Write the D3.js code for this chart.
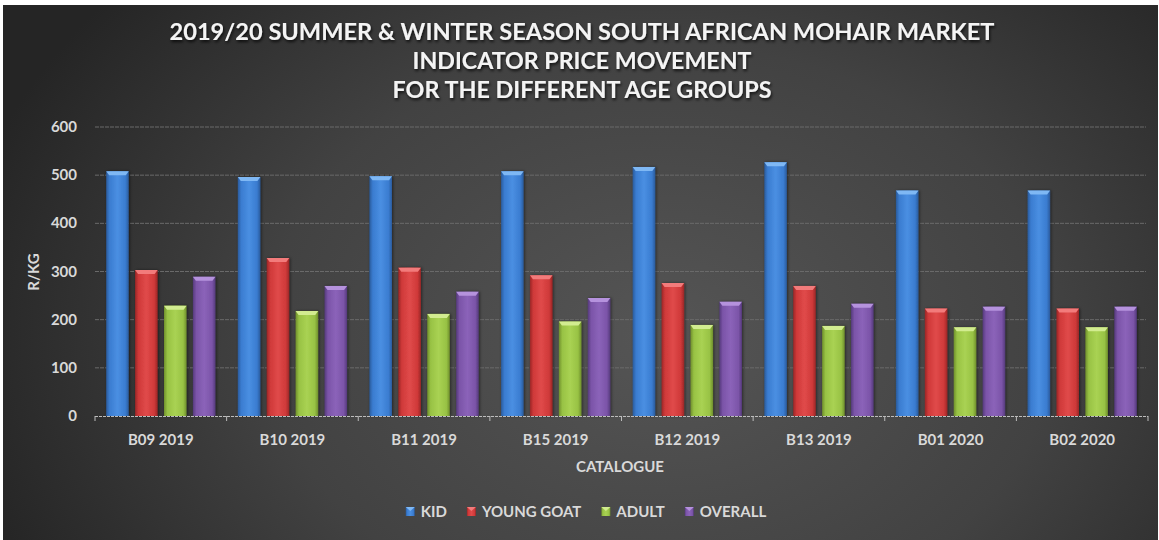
<!DOCTYPE html>
<html>
<head>
<meta charset="utf-8">
<script src="https://cdn.jsdelivr.net/npm/d3@7"></script>
<style>
  body { margin: 0; background: #ffffff; }
  svg { display: block; }
  text { font-family: Lato, "Open Sans", sans-serif; font-weight: 700; }
</style>
</head>
<body>
<script>
const categories = ["B09 2019", "B10 2019", "B11 2019", "B15 2019", "B12 2019", "B13 2019", "B01 2020", "B02 2020"];
const seriesNames = ["KID", "YOUNG GOAT", "ADULT", "OVERALL"];
const kid = [508, 496, 498, 508, 517, 527, 468, 468];
const youngGoat = [303, 328, 308, 292, 276, 270, 223, 223];
const adult = [229, 218, 212, 196, 189, 187, 184, 184];
const overall = [289, 270, 258, 245, 237, 233, 227, 227];
const yTicks = [0, 100, 200, 300, 400, 500, 600];
const titleLines = [
  "2019/20 SUMMER & WINTER SEASON SOUTH AFRICAN MOHAIR MARKET",
  "INDICATOR PRICE MOVEMENT",
  "FOR THE DIFFERENT AGE GROUPS"
];
const titleWidths = [825, 339, 379];

document.addEventListener("DOMContentLoaded", () => {
  const w = 1159;
  const h = 540;
  const allSeries = [kid, youngGoat, adult, overall];

  // colours: edge, body, centre, cap
  const palette = [
    { edge: "#2a5b9c", body: "#3a7cd0", mid: "#4a8fe2", cap: "#7fb8f4" },
    { edge: "#9a2626", body: "#cf3939", mid: "#e04a4a", cap: "#f27b7b" },
    { edge: "#6f8f2c", body: "#98c244", mid: "#a9d253", cap: "#d2ec90" },
    { edge: "#553a7c", body: "#7b54a8", mid: "#8b63b9", cap: "#b592dd" }
  ];

  const svg = d3.select("body")
    .append("svg")
    .attr("width", w)
    .attr("height", h);

  const defs = svg.append("defs");

  const bg = defs.append("radialGradient")
    .attr("id", "bg")
    .attr("cx", "0.57").attr("cy", "0.62").attr("r", "0.62")
    .attr("gradientTransform", "translate(0.57,0.62) scale(1,1.6) translate(-0.57,-0.62)");
  bg.append("stop").attr("offset", "0%").attr("stop-color", "#555555");
  bg.append("stop").attr("offset", "55%").attr("stop-color", "#424242");
  bg.append("stop").attr("offset", "100%").attr("stop-color", "#252525");

  palette.forEach((p, i) => {
    const g = defs.append("linearGradient")
      .attr("id", "bar" + i)
      .attr("x1", "0").attr("x2", "1").attr("y1", "0").attr("y2", "0");
    g.append("stop").attr("offset", "0%").attr("stop-color", p.edge);
    g.append("stop").attr("offset", "15%").attr("stop-color", p.body);
    g.append("stop").attr("offset", "50%").attr("stop-color", p.mid);
    g.append("stop").attr("offset", "85%").attr("stop-color", p.body);
    g.append("stop").attr("offset", "100%").attr("stop-color", p.edge);
  });

  const shadow = defs.append("filter").attr("id", "shadow")
    .attr("x", "-20%").attr("y", "-20%").attr("width", "140%").attr("height", "160%");
  shadow.append("feDropShadow")
    .attr("dx", 1).attr("dy", 2).attr("stdDeviation", 1.5)
    .attr("flood-color", "#000").attr("flood-opacity", 0.75);

  const barShadow = defs.append("filter").attr("id", "barShadow")
    .attr("x", "-30%").attr("y", "-5%").attr("width", "160%").attr("height", "110%");
  barShadow.append("feDropShadow")
    .attr("dx", 1).attr("dy", 0).attr("stdDeviation", 1.5)
    .attr("flood-color", "#000").attr("flood-opacity", 0.5);

  svg.append("rect")
    .attr("x", 3).attr("y", 5)
    .attr("width", 1155).attr("height", 535)
    .attr("fill", "url(#bg)");

  // title
  svg.append("g").selectAll("text")
    .data(titleLines)
    .enter()
    .append("text")
    .attr("x", 582)
    .attr("y", (d, i) => 40 + i * 29)
    .attr("text-anchor", "middle")
    .attr("textLength", (d, i) => titleWidths[i])
    .attr("lengthAdjust", "spacingAndGlyphs")
    .style("font-size", "22px")
    .style("fill", "#f4f4f4")
    .attr("filter", "url(#shadow)")
    .text((d) => d);

  const x0 = d3.scaleBand()
    .domain(categories)
    .range([95, 1148])
    .paddingInner(0.17)
    .paddingOuter(0.085);

  const x1 = d3.scaleBand()
    .domain(d3.range(seriesNames.length))
    .range([0, x0.bandwidth()])
    .paddingInner(0.22);

  const y = d3.scaleLinear()
    .domain([0, 600])
    .range([416, 127]);

  // gridlines
  svg.append("g").selectAll("line")
    .data(yTicks.slice(1))
    .enter()
    .append("line")
    .attr("x1", 95).attr("x2", 1146)
    .attr("y1", (d) => y(d)).attr("y2", (d) => y(d))
    .attr("stroke", "#6a6a6a")
    .attr("stroke-width", 1)
    .attr("stroke-dasharray", "4,1");

  // y tick labels
  svg.append("g").selectAll("text")
    .data(yTicks)
    .enter()
    .append("text")
    .attr("x", 77)
    .attr("y", (d) => y(d) + 5)
    .attr("text-anchor", "end")
    .style("font-size", "15px")
    .style("fill", "#d9d9d9")
    .text((d) => d);

  svg.append("text")
    .attr("transform", "translate(39,272) rotate(-90)")
    .attr("text-anchor", "middle")
    .style("font-size", "15px")
    .style("fill", "#d9d9d9")
    .text("R/KG");

  // bars
  const groups = svg.append("g").selectAll("g")
    .data(categories)
    .enter()
    .append("g")
    .attr("transform", (d) => `translate(${x0(d)},0)`);

  const bars = groups.selectAll("g")
    .data((d, ci) => allSeries.map((s, si) => ({ si, v: s[ci] })))
    .enter()
    .append("g");

  bars.append("rect")
    .attr("x", (d) => x1(d.si))
    .attr("y", (d) => y(d.v))
    .attr("width", x1.bandwidth())
    .attr("height", (d) => y(0) - y(d.v))
    .attr("fill", (d) => `url(#bar${d.si})`)
    .attr("filter", "url(#barShadow)");

  bars.append("path")
    .attr("d", (d) => {
      const l = x1(d.si);
      const r = l + x1.bandwidth();
      const t = y(d.v);
      return `M${l},${t}L${r},${t}L${r - 3},${t + 4}L${l + 3},${t + 4}Z`;
    })
    .attr("fill", (d) => palette[d.si].cap);

  // x axis
  const axis = svg.append("g");
  axis.append("line")
    .attr("x1", 95).attr("x2", 1148)
    .attr("y1", 416.5).attr("y2", 416.5)
    .attr("stroke", "#bdbdbd")
    .attr("stroke-dasharray", "3,1");

  const boundaries = categories.map((c) => x0(c) - x0.step() * x0.paddingInner() / 2)
    .concat([1148]);
  axis.selectAll(".tick")
    .data(boundaries)
    .enter()
    .append("line")
    .attr("class", "tick")
    .attr("x1", (d) => d).attr("x2", (d) => d)
    .attr("y1", 416).attr("y2", 421)
    .attr("stroke", "#bdbdbd");

  axis.selectAll("text")
    .data(categories)
    .enter()
    .append("text")
    .attr("x", (d) => x0(d) + x0.bandwidth() / 2)
    .attr("y", 445)
    .attr("text-anchor", "middle")
    .style("font-size", "15px")
    .style("fill", "#d9d9d9")
    .text((d) => d);

  svg.append("text")
    .attr("x", 620)
    .attr("y", 472)
    .attr("text-anchor", "middle")
    .style("font-size", "15px")
    .style("fill", "#d9d9d9")
    .text("CATALOGUE");

  // legend
  const legend = svg.append("g");
  const items = legend.selectAll("g")
    .data(seriesNames)
    .enter()
    .append("g");

  items.append("text")
    .attr("y", 517)
    .style("font-size", "15px")
    .style("fill", "#d9d9d9")
    .text((d) => d);

  const widths = [];
  items.selectAll("text").each(function () { widths.push(this.getComputedTextLength()); });
  const markerW = 9, markerGap = 6, itemGap = 20;
  const total = d3.sum(widths) + seriesNames.length * (markerW + markerGap) + (seriesNames.length - 1) * itemGap;
  let cursor = 586 - total / 2;
  const starts = widths.map((wd) => {
    const s = cursor;
    cursor += markerW + markerGap + wd + itemGap;
    return s;
  });

  items.attr("transform", (d, i) => `translate(${starts[i]},0)`);
  items.select("text").attr("x", markerW + markerGap);
  items.append("rect")
    .attr("x", 0).attr("y", 507)
    .attr("width", markerW).attr("height", markerW)
    .attr("fill", (d, i) => `url(#bar${i})`);
  items.append("path")
    .attr("d", `M0,507L${markerW},507L${markerW / 2},511Z`)
    .attr("fill", (d, i) => palette[i].cap);
});
</script>
</body>
</html>
